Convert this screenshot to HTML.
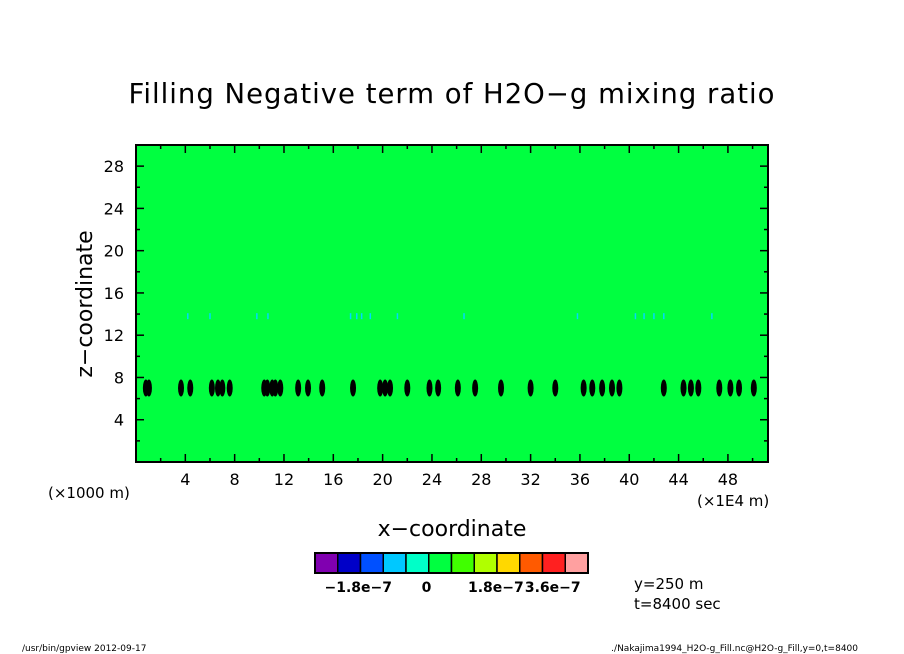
<!DOCTYPE html>
<html><head><meta charset="utf-8"><style>
body{margin:0;background:#fff;width:904px;height:654px;overflow:hidden}
svg{display:block}
text{font-family:"DejaVu Sans","Liberation Sans",sans-serif;fill:#000}
</style></head><body>
<svg id="chart" width="904" height="654" viewBox="0 0 904 654" xmlns="http://www.w3.org/2000/svg">
<text x="452" y="103" font-size="27.5" text-anchor="middle" letter-spacing="1">Filling Negative term of H2O−g mixing ratio</text>
<rect x="136" y="145" width="632" height="317" fill="#00ff40"/>
<g id="marks"></g>
<g id="axes"></g>
<rect x="136" y="145" width="632" height="317" fill="none" stroke="#000" stroke-width="2"/>
<text transform="translate(92,304) rotate(-90)" font-size="22" text-anchor="middle">z−coordinate</text>
<text x="452" y="536" font-size="22" text-anchor="middle">x−coordinate</text>
<text x="48" y="498" font-size="15">(×1000 m)</text>
<text x="697" y="506" font-size="15">(×1E4 m)</text>
<g id="colorbar"></g>
<text x="634" y="589" font-size="15">y=250 m</text>
<text x="634" y="609" font-size="15">t=8400 sec</text>
<text x="22" y="651" font-size="9">/usr/bin/gpview   2012-09-17</text>
<text x="858" y="651" font-size="9" text-anchor="end">./Nakajima1994_H2O-g_Fill.nc@H2O-g_Fill,y=0,t=8400</text>
</svg>
<script>
const xTicks=[4,8,12,16,20,24,28,32,36,40,44,48];
const yTicks=[4,8,12,16,20,24,28];
const blobX=[0.8,1.05,3.65,4.4,6.15,6.65,7.0,7.6,10.4,10.65,11.05,11.3,11.7,13.15,13.95,15.1,17.6,19.8,20.2,20.6,22.0,23.8,24.5,26.1,27.5,29.6,32.0,34.0,36.3,37.0,37.8,38.6,39.2,42.8,44.4,45.0,45.6,47.3,48.2,48.9,50.1];
const blobZ=7.0;
const faintX=[4.2,6.0,9.8,10.7,17.4,17.9,18.3,19.0,21.2,26.6,35.8,40.5,41.2,42.0,42.8,46.7];
const faintZ=13.8;
const cbColors=["#8000b0","#0000c8","#0050ff","#00c8ff","#00ffc8","#00ff40","#40ff00","#b0ff00","#ffd800","#ff5a00","#ff2020","#ffa0a0"];
const cbLabels=["−1.8e−7","0","1.8e−7","3.6e−7"];
const cbLabelIdx=[1.9,4.9,7.95,10.45];
const X0=136,X1=768,Y0=462,Y1=145,xMax=51.25,zMax=30;
const sx=v=>X0+v/xMax*(X1-X0);
const sy=v=>Y0-v/zMax*(Y0-Y1);
const NS="http://www.w3.org/2000/svg";
function mk(t,a,p){const e=document.createElementNS(NS,t);for(const k in a)e.setAttribute(k,a[k]);p.appendChild(e);return e;}
const marks=document.getElementById('marks'),axes=document.getElementById('axes'),cb=document.getElementById('colorbar');
faintX.forEach(v=>{const e=mk('line',{x1:sx(v),x2:sx(v),y1:sy(faintZ)-3,y2:sy(faintZ)+3,stroke:'#00d8ff','stroke-width':1.5},marks);

});
blobX.forEach(v=>{const e=mk('ellipse',{cx:sx(v),cy:sy(blobZ),rx:3,ry:8.5,fill:'#000'},marks);

});
for(let v=2;v<51;v+=2){const maj=v%4===0,L=maj?8:4;
mk('line',{x1:sx(v),x2:sx(v),y1:Y0,y2:Y0-L,stroke:'#000','stroke-width':1.5},axes);
mk('line',{x1:sx(v),x2:sx(v),y1:Y1,y2:Y1+L,stroke:'#000','stroke-width':1.5},axes);}
for(let v=2;v<30;v+=2){const maj=v%4===0,L=maj?8:4;
mk('line',{x1:X0,x2:X0+L,y1:sy(v),y2:sy(v),stroke:'#000','stroke-width':1.5},axes);
mk('line',{x1:X1,x2:X1-L,y1:sy(v),y2:sy(v),stroke:'#000','stroke-width':1.5},axes);}
xTicks.forEach(v=>{const t=mk('text',{x:sx(v),y:485,'font-size':16,'text-anchor':'middle'},axes);t.textContent=v;

});
yTicks.forEach(v=>{const t=mk('text',{x:124,y:sy(v)+6,'font-size':16,'text-anchor':'end'},axes);t.textContent=v;

});
const cbx=315,cbw=273,cby=553,cbh=20,bw=cbw/cbColors.length;
cbColors.forEach((c,i)=>{const r=mk('rect',{x:cbx+i*bw,y:cby,width:bw,height:cbh,fill:c,stroke:'#000','stroke-width':1.5},cb);

});
mk('rect',{x:cbx,y:cby,width:cbw,height:cbh,fill:'none',stroke:'#000','stroke-width':2},cb);
cbLabels.forEach((l,i)=>{const t=mk('text',{x:cbx+cbLabelIdx[i]*bw,y:592,'font-size':14,'text-anchor':'middle','font-weight':'bold','font-family':'Liberation Sans, sans-serif'},cb);t.textContent=l;

});
</script>
</body></html>
